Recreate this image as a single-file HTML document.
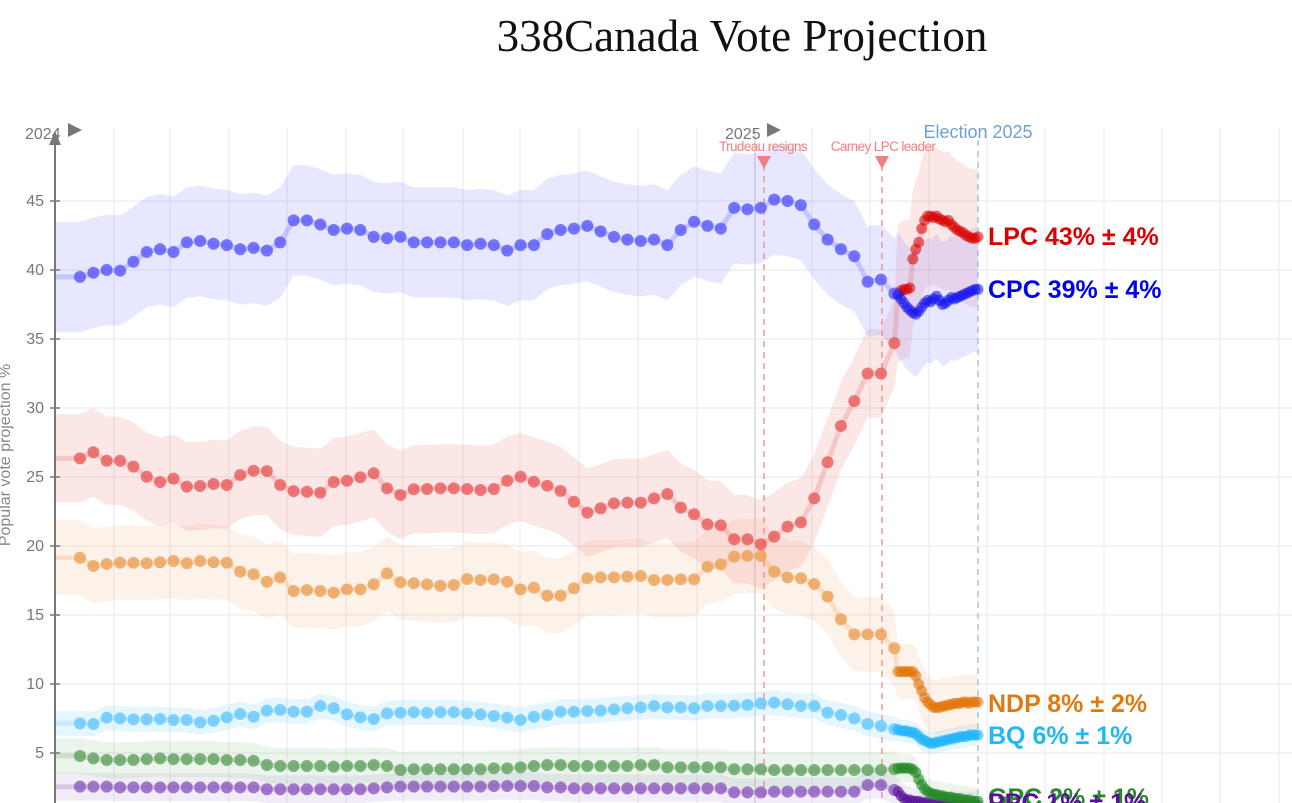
<!DOCTYPE html>
<html><head><meta charset="utf-8">
<style>
html,body{margin:0;padding:0;background:#fff;}
svg{display:block;font-family:"Liberation Sans",sans-serif;}
</style></head>
<body>
<svg id="chart" width="1292" height="803" viewBox="0 0 1292 803">
  <text x="742" y="51" text-anchor="middle" font-family="Liberation Serif, serif" font-size="45" fill="#111">338Canada Vote Projection</text>
  <g id="grid"></g>
  <g id="bands"></g>
  <g id="events">
    <line x1="764" y1="165" x2="764" y2="803" stroke="#f08080" stroke-width="1.2" stroke-dasharray="6,5"/>
    <polygon points="757,156 771,156 764,169" fill="#f08080"/>
    <text x="763" y="151" text-anchor="middle" font-size="13.5" fill="#f08080" letter-spacing="-0.6">Trudeau resigns</text>
    <line x1="882" y1="165" x2="882" y2="803" stroke="#f08080" stroke-width="1.2" stroke-dasharray="6,5"/>
    <polygon points="875,156 889,156 882,169" fill="#f08080"/>
    <text x="883" y="151" text-anchor="middle" font-size="13.5" fill="#f08080" letter-spacing="-0.6">Carney LPC leader</text>
    <line x1="978" y1="140" x2="978" y2="803" stroke="#8fb4dc" stroke-width="1.2" stroke-dasharray="6,5"/>
    <text x="978" y="138" text-anchor="middle" font-size="18" fill="#6fa0d0">Election 2025</text>
  </g>
  <g id="series"></g>
  <g id="axis">
    <line x1="55" y1="138" x2="55" y2="803" stroke="#777" stroke-width="2"/>
    <polygon points="49,145 61,145 55,131" fill="#777"/>
    <text x="25" y="139" font-size="16" fill="#777">2024</text>
    <polygon points="68,123 68,137 82,130" fill="#777"/>
    <text x="725" y="139" font-size="16" fill="#777">2025</text>
    <polygon points="767,123 767,137 781,130" fill="#777"/>
    <text transform="translate(10,455) rotate(-90)" text-anchor="middle" font-size="16" fill="#888">Popular vote projection %</text>
  </g>
  <g id="labels" font-weight="bold" font-size="25">
    <text x="988" y="245" fill="#dd0000">LPC 43% ± 4%</text>
    <text x="988" y="298" fill="#0000ee">CPC 39% ± 4%</text>
    <text x="988" y="712" fill="#e07a10">NDP 8% ± 2%</text>
    <text x="988" y="744" fill="#22b8f5">BQ 6% ± 1%</text>
    <text x="988" y="806" fill="#2a8a2a">GPC 2% ± 1%</text>
    <text x="988" y="811" fill="#551199">PPC 1% ± 1%</text>
  </g>
</svg>
<script>
const yTicks = [5,10,15,20,25,30,35,40,45];
const monthGridX = [114,170,229,287,346,403,463,520,579,638,697,755,812,870,929,987,1045,1104,1162,1220,1279];
const cpcWeekly = [39.5,39.8,40.0,39.95,40.6,41.3,41.5,41.3,42.0,42.1,41.9,41.8,41.5,41.6,41.4,42.0,43.6,43.6,43.3,42.9,43.0,42.9,42.4,42.3,42.4,42.0,42.0,42.0,42.0,41.8,41.9,41.8,41.4,41.8,41.8,42.6,42.9,43.0,43.2,42.8,42.4,42.2,42.1,42.2,41.8,42.9,43.5,43.2,43.0,44.5,44.4,44.5,45.1,45.0,44.7,43.3,42.2,41.5,41.0,39.15,39.3,38.3];
const lpcWeekly = [26.35,26.79,26.18,26.18,25.75,25.02,24.64,24.88,24.3,24.35,24.49,24.42,25.14,25.45,25.43,24.42,23.98,23.93,23.86,24.64,24.73,24.98,25.27,24.18,23.7,24.11,24.13,24.18,24.18,24.13,24.06,24.13,24.73,25.02,24.66,24.37,23.99,23.21,22.42,22.73,23.09,23.14,23.14,23.45,23.77,22.78,22.3,21.57,21.5,20.49,20.49,20.12,20.68,21.4,21.71,23.45,26.07,28.7,30.5,32.5,32.5,34.7];
const ndpWeekly = [19.15,18.55,18.7,18.79,18.79,18.75,18.82,18.91,18.75,18.91,18.82,18.79,18.14,17.95,17.41,17.73,16.74,16.81,16.74,16.62,16.86,16.86,17.22,18.02,17.37,17.3,17.22,17.12,17.17,17.61,17.54,17.58,17.41,16.86,16.98,16.4,16.4,16.93,17.66,17.73,17.73,17.78,17.83,17.54,17.54,17.58,17.58,18.5,18.67,19.23,19.28,19.28,18.14,17.73,17.66,17.25,16.33,14.69,13.6,13.6,13.6,12.59];
const bqWeekly = [7.15,7.10,7.56,7.51,7.44,7.44,7.46,7.39,7.39,7.22,7.34,7.58,7.83,7.63,8.07,8.12,8.0,8.0,8.41,8.24,7.80,7.58,7.46,7.87,7.92,7.95,7.92,7.95,7.95,7.87,7.80,7.68,7.56,7.39,7.63,7.75,7.99,7.99,8.04,8.07,8.16,8.24,8.31,8.41,8.31,8.31,8.24,8.41,8.41,8.43,8.48,8.6,8.65,8.53,8.41,8.41,7.92,7.75,7.51,7.10,6.96,6.72];
const gpcWeekly = [4.78,4.61,4.49,4.49,4.49,4.56,4.61,4.56,4.56,4.56,4.56,4.49,4.49,4.44,4.13,4.06,4.06,4.06,4.06,4.01,4.06,4.06,4.13,4.06,3.77,3.82,3.82,3.82,3.82,3.82,3.82,3.89,3.89,3.96,4.06,4.13,4.13,4.06,4.06,4.06,4.06,4.06,4.13,4.13,3.96,3.96,3.96,3.96,3.96,3.82,3.82,3.82,3.77,3.77,3.77,3.77,3.77,3.77,3.77,3.77,3.77,3.82];
const ppcWeekly = [2.56,2.56,2.56,2.51,2.51,2.51,2.51,2.51,2.51,2.51,2.51,2.51,2.51,2.51,2.37,2.37,2.37,2.37,2.37,2.37,2.37,2.37,2.44,2.51,2.56,2.56,2.56,2.56,2.56,2.56,2.56,2.61,2.61,2.61,2.61,2.51,2.51,2.44,2.44,2.44,2.44,2.44,2.44,2.44,2.44,2.44,2.44,2.44,2.44,2.15,2.15,2.15,2.2,2.2,2.2,2.2,2.2,2.2,2.2,2.68,2.68,2.32];
const lpcDaily = [38.3,38.5,38.6,38.6,38.7,40.8,41.5,42.0,43.0,43.6,43.9,43.9,43.8,43.9,43.7,43.6,43.5,43.6,43.3,43.1,42.9,42.8,42.7,42.5,42.4,42.3,42.3,42.4];
const cpcDaily = [38.2,37.9,37.6,37.3,37.1,36.9,36.8,37.0,37.3,37.6,37.8,37.7,37.9,38.1,37.8,37.5,37.6,37.8,38.0,37.9,38.0,38.1,38.2,38.3,38.4,38.5,38.6,38.6];
const ndpDaily = [10.9,10.9,10.9,10.9,10.9,10.9,10.6,10.0,9.5,9.0,8.7,8.5,8.3,8.3,8.3,8.4,8.4,8.5,8.5,8.6,8.6,8.6,8.7,8.7,8.6,8.7,8.7,8.7];
const bqDaily = [6.7,6.6,6.6,6.6,6.5,6.5,6.4,6.2,6.0,5.9,5.8,5.7,5.7,5.8,5.8,5.9,5.9,6.0,6.0,6.1,6.1,6.2,6.2,6.2,6.3,6.3,6.3,6.3];
const gpcDaily = [3.9,3.9,3.9,3.9,3.9,3.8,3.6,3.1,2.7,2.4,2.2,2.1,2.0,2.0,1.9,1.9,1.8,1.8,1.8,1.7,1.7,1.7,1.6,1.6,1.6,1.5,1.5,1.5];
const ppcDaily = [2.2,1.9,1.7,1.6,1.6,1.5,1.5,1.5,1.4,1.4,1.4,1.3,1.3,1.3,1.3,1.3,1.3,1.2,1.2,1.2,1.2,1.2,1.2,1.2,1.2,1.2,1.2,1.2];
const cpcMargin = [4.0,4.5];
const lpcMargin = [3.2,5.0];
const ndpMargin = [2.7,2.0];
const bqMargin = [0.9,0.8];
const gpcMargin = [1.3,1.0];
const ppcMargin = [1.0,1.0];

const NS = "http://www.w3.org/2000/svg";
function yScale(v){ return 822 - 13.8*v; }
function xWeek(i){ return 80 + 13.35*i; }
function xDay(d, n){ return 898 + d*(80/(n-1)); }
function mk(tag, attrs, parent){
  const el = document.createElementNS(NS, tag);
  for (const k in attrs) el.setAttribute(k, attrs[k]);
  parent.appendChild(el);
  return el;
}
const grid = document.getElementById('grid');
monthGridX.forEach(function(x){
  const l = mk('line', {x1:x, y1:128, x2:x, y2:803, stroke: x===755 ? '#cfcfcf' : '#ececec', 'stroke-width':1.2}, grid);
  
  
});
const axisG = document.getElementById('axis');
yTicks.forEach(function(t){
  const y = yScale(t);
  const g = mk('line', {x1:55, y1:y, x2:1292, y2:y, stroke:'#ececec', 'stroke-width':1.2}, grid);
  
  
  const tk = mk('line', {x1:50, y1:y, x2:60, y2:y, stroke:'#777', 'stroke-width':1.5}, axisG);
  
  
  const tx = mk('text', {x:44, y:y+5, 'text-anchor':'end', 'font-size':16, fill:'#777'}, axisG);
  tx.textContent = t;
  
  
});

const seriesDefs = [
  {name:'ppc', w:ppcWeekly, d:ppcDaily, m:ppcMargin, band:'rgba(150,110,200,0.13)', dot:'rgba(140,90,190,0.8)', dDot:'rgba(85,17,153,0.85)'},
  {name:'gpc', w:gpcWeekly, d:gpcDaily, m:gpcMargin, band:'rgba(110,180,110,0.13)', dot:'rgba(95,160,95,0.8)', dDot:'rgba(34,136,34,0.85)'},
  {name:'bq', w:bqWeekly, d:bqDaily, m:bqMargin, band:'rgba(100,200,255,0.16)', dot:'rgba(100,200,255,0.8)', dDot:'rgba(30,180,250,0.85)'},
  {name:'ndp', w:ndpWeekly, d:ndpDaily, m:ndpMargin, band:'rgba(245,175,120,0.16)', dot:'rgba(235,160,85,0.8)', dDot:'rgba(225,115,10,0.85)'},
  {name:'lpc', w:lpcWeekly, d:lpcDaily, m:lpcMargin, band:'rgba(240,120,120,0.18)', dot:'rgba(232,90,90,0.8)', dDot:'rgba(215,0,0,0.8)'},
  {name:'cpc', w:cpcWeekly, d:cpcDaily, m:cpcMargin, band:'rgba(120,120,255,0.18)', dot:'rgba(90,90,255,0.82)', dDot:'rgba(20,20,235,0.8)'}
];
const bandsG = document.getElementById('bands');
const seriesG = document.getElementById('series');
seriesDefs.forEach(function(s){
  const pts = [];
  pts.push({x:55, v:s.w[0], m:s.m[0]});
  s.w.forEach(function(v,i){ pts.push({x:xWeek(i), v:v, m:s.m[0]}); });
  s.d.forEach(function(v,i){ pts.push({x:xDay(i, s.d.length), v:v, m:s.m[1]}); });
  const up = pts.map(function(p){ return p.x.toFixed(1)+','+yScale(p.v+p.m).toFixed(1); });
  const lo = pts.slice().reverse().map(function(p){ return p.x.toFixed(1)+','+yScale(Math.max(0,p.v-p.m)).toFixed(1); });
  const band = mk('polygon', {points: up.concat(lo).join(' '), fill:s.band}, bandsG);
  
  
  const line = mk('polyline', {points: pts.map(function(p){return p.x.toFixed(1)+','+yScale(p.v).toFixed(1);}).join(' '), fill:'none', stroke:s.dot, 'stroke-opacity':0.3, 'stroke-width':5, 'stroke-linejoin':'round'}, seriesG);
  
  
  s.w.forEach(function(v,i){
    const c = mk('circle', {cx:xWeek(i), cy:yScale(v), r:6, fill:s.dot}, seriesG);
    
    
  });
  s.d.forEach(function(v,i){
    const c = mk('circle', {cx:xDay(i, s.d.length), cy:yScale(v), r:5.5, fill:s.dDot, 'fill-opacity':0.7}, seriesG);
    
    
  });
});
</script>
</body></html>
